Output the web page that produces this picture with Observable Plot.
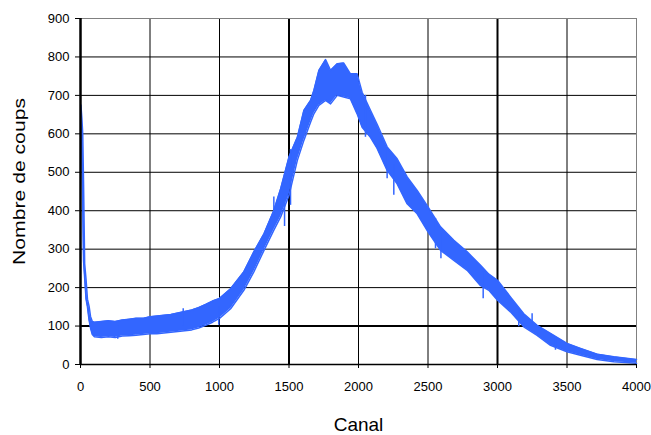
<!DOCTYPE html>
<html>
<head>
<meta charset="utf-8">
<script src="https://cdn.jsdelivr.net/npm/d3@7"></script>
<script src="https://cdn.jsdelivr.net/npm/@observablehq/plot@0.6"></script>
<style>
  html, body { margin: 0; padding: 0; background: #fff; }
  #chart svg { display: block; }
</style>
</head>
<body>
<div id="chart"></div>
<script>
// Channel positions (Canal) where the band was read
const channels = [3, 10, 16, 22, 30, 40, 50, 62, 72, 85, 100, 150, 200, 250, 300, 350, 400, 450, 500, 550, 600, 650, 700, 750, 800, 850, 900, 950, 1000, 1080, 1175, 1247, 1320, 1390, 1440, 1500, 1560, 1607, 1655, 1679, 1715, 1763, 1799, 1847, 1894, 1942, 1990, 2026, 2086, 2134, 2206, 2278, 2350, 2422, 2500, 2590, 2686, 2782, 2878, 2938, 3000, 3093, 3189, 3285, 3381, 3500, 3597, 3717, 3837, 4000];
// Lower edge of the noisy count band (Nombre de coups)
const countsLow = [600, 560, 420, 270, 225, 170, 150, 115, 95, 78, 72, 70, 72, 70, 74, 75, 76, 78, 80, 80, 82, 84, 86, 88, 90, 95, 102, 110, 120, 145, 193, 241, 297, 349, 384, 440, 531, 583, 630, 652, 674, 687, 678, 700, 696, 691, 652, 617, 591, 562, 505, 470, 418, 392, 345, 297, 271, 245, 205, 193, 167, 137, 98, 76, 50, 33, 24, 13, 7, 3];
// Upper edge of the noisy count band
const countsHigh = [675, 640, 600, 470, 262, 221, 170, 151, 125, 112, 110, 112, 114, 112, 116, 118, 120, 120, 124, 126, 128, 130, 134, 138, 142, 148, 156, 165, 172, 197, 241, 293, 340, 400, 457, 540, 591, 661, 687, 713, 765, 793, 765, 782, 784, 756, 756, 708, 661, 625, 566, 535, 488, 453, 410, 358, 323, 293, 258, 235, 219, 176, 132, 102, 81, 55, 42, 27, 20, 13];

// Isolated noise spikes: channel, lowest and highest count reached
const spikeChannels = [268, 739, 995, 1391, 1468, 1511, 2050, 2206, 2254, 2554, 2593, 2897, 3153, 3249, 3417];
const spikeLow = [66, 100, 102, 380, 359, 414, 591, 483, 440, 301, 275, 171, 98, 100, 37];
const spikeHigh = [100, 145, 150, 436, 420, 559, 700, 560, 520, 380, 340, 240, 140, 132, 70];

const xTicks = [0, 500, 1000, 1500, 2000, 2500, 3000, 3500, 4000];
const yTicks = [0, 100, 200, 300, 400, 500, 600, 700, 800, 900];
const xLabel = "Canal";
const yLabel = "Nombre de coups";

const data = channels.map((c, i) => ({ch: c, low: countsLow[i], high: countsHigh[i]}));
const spikes = spikeChannels.map((c, i) => ({ch: c, low: spikeLow[i], high: spikeHigh[i]}));

const blue = "#3366ff";
const font = "'Liberation Sans', Arial, sans-serif";

const chart = Plot.plot({
  width: 651,
  height: 435,
  marginLeft: 80,
  marginRight: 15,
  marginTop: 18,
  marginBottom: 71,
  style: {fontFamily: font, fontSize: "13px", color: "#000", background: "#fff"},
  x: {domain: [0, 4000]},
  y: {domain: [0, 900]},
  marks: [
    // gridlines
    Plot.ruleX(xTicks.filter(t => t > 0 && t < 4000), {x: d => d, stroke: "#000", strokeWidth: d => (d === 1500 || d === 3000) ? 2 : 1}),
    Plot.ruleY(yTicks.filter(t => t > 0 && t < 900), {y: d => d, stroke: "#000", strokeWidth: d => d === 100 ? 2 : 1}),
    // frame top/right grey
    Plot.ruleY([900], {stroke: "#808080", strokeWidth: 1}),
    Plot.ruleX([4000], {stroke: "#808080", strokeWidth: 1}),
    // data band
    Plot.areaY(data, {x: "ch", y1: "low", y2: "high", fill: blue}),
    Plot.line(data, {x: "ch", y: "high", stroke: blue, strokeWidth: 1.5}),
    Plot.line(data, {x: "ch", y: "low", stroke: blue, strokeWidth: 1.5}),
    Plot.ruleX(spikes, {x: "ch", y1: "low", y2: "high", stroke: blue, strokeWidth: 1.5}),
    // axes lines
    Plot.ruleY([0], {stroke: "#000", strokeWidth: 1.5}),
    Plot.ruleX([0], {stroke: "#000", strokeWidth: 2.5}),
    Plot.axisX(xTicks, {tickSize: 4, tickPadding: 13, fontSize: 13, label: null, tickFormat: d => String(d), stroke: "#000", fill: "#000"}),
    Plot.axisY(yTicks, {tickSize: 5, tickPadding: 6, fontSize: 13, label: null, tickFormat: d => String(d), stroke: "#000", fill: "#000"}),
    // axis titles
    Plot.text([xLabel], {frameAnchor: "bottom", dy: 60, lineAnchor: "middle", textAnchor: "middle", fontSize: 19, fill: "#000"}),
    Plot.text([yLabel], {frameAnchor: "left", dx: -61, dy: -10, rotate: -90, lineAnchor: "middle", textAnchor: "middle", fontSize: 17, fill: "#000"})
  ]
});

d3.select(chart).selectAll("text")
  .filter(function() { return this.textContent === yLabel; })
  .attr("textLength", 167)
  .attr("lengthAdjust", "spacingAndGlyphs");

document.getElementById("chart").appendChild(chart);
</script>
</body>
</html>
